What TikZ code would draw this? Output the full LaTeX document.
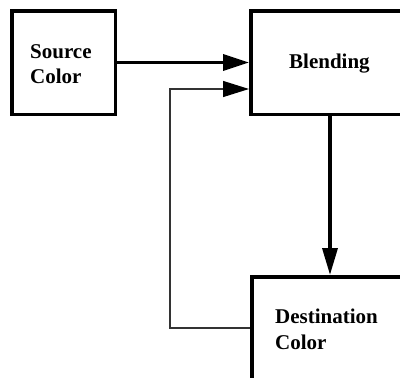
\documentclass[tikz,border=0pt]{standalone}
\usepackage{fontspec}
\setmainfont{Liberation Serif}
\usetikzlibrary{arrows.meta}
\begin{document}
\begin{tikzpicture}[x=1pt,y=-1pt,
  box/.style={draw, line width=3.5pt, inner sep=0pt, anchor=north west},
  lbl/.style={font=\fontsize{21}{25.5}\selectfont\bfseries, align=left, anchor=base west, inner sep=0pt},
  thickarrow/.style={line width=3.5pt, -{Triangle[length=26pt,width=16pt]}},
  fbarrow/.style={line width=1.2pt, draw=black!80, -{Triangle[length=26pt,width=16pt,color=black]}},
  downarrow/.style={line width=3.5pt, -{Triangle[length=27pt,width=15pt]}},
]
\clip (0,0) rectangle (400,378);
\node[box, minimum width=103.5pt, minimum height=103.5pt] (src) at (10,9) {};
\node[box, minimum width=158.5pt, minimum height=103.5pt] (blend) at (249,9) {};
\node[box, minimum width=156.5pt, minimum height=200pt] (dest) at (250,275) {};
\node[lbl] (srctxt) at (30,83.5) {Source\\Color};
\node[lbl] (blendtxt) at (289,68) {Blending};
\node[lbl] (desttxt) at (275,349) {Destination\\Color};
\draw[thickarrow] (src.east) -- (src.east -| blend.west);
\coordinate (fbA) at (170,328);
\coordinate (fbB) at (170,89);
\draw[fbarrow] (fbA -| dest.west) -- (fbA) -- (fbB) -- (fbB -| blend.west);
\draw[downarrow] (blend.south) -- (dest.north);
\end{tikzpicture}
\end{document}
